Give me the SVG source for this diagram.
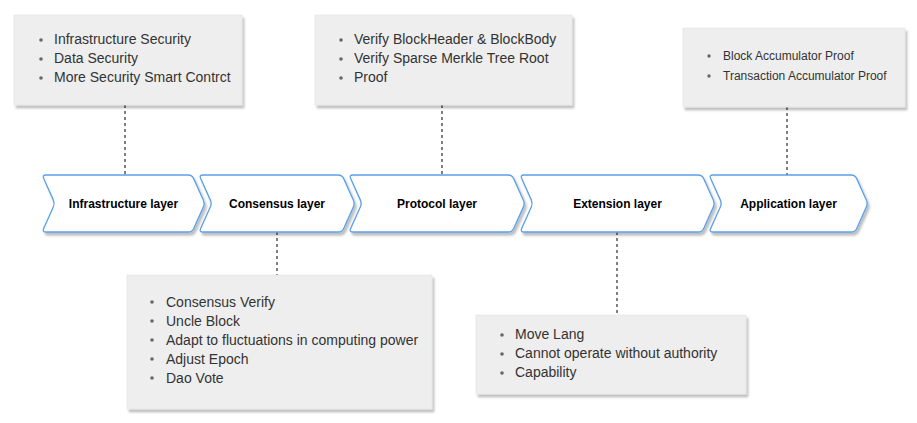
<svg xmlns="http://www.w3.org/2000/svg" width="917" height="423" viewBox="0 0 917 423">
<defs>
<filter id="sh" x="-10%" y="-10%" width="130%" height="140%">
<feDropShadow dx="2" dy="3" stdDeviation="1" flood-color="#000" flood-opacity="0.25"/>
</filter>
<style>
.box{fill:#eeeeee;stroke:#e2e2e2;stroke-width:0.6;filter:url(#sh)}
.chev{fill:#ffffff;stroke:#5aa0ea;stroke-width:1.3;stroke-linejoin:round;filter:url(#sh)}
.lbl{font-family:"Liberation Sans",Arial,sans-serif;font-size:12px;font-weight:bold;fill:#000;text-anchor:middle}
.it{font-family:"Liberation Sans",Arial,sans-serif;font-size:14px;fill:#333}
.its{font-family:"Liberation Sans",Arial,sans-serif;font-size:12px;fill:#333}
.bul{fill:#666}
.con{stroke:#000;stroke-width:1;stroke-dasharray:3 3;fill:none}
</style>
</defs>
<rect width="917" height="423" fill="#ffffff"/>
<g id="connectors">
<line class="con" x1="125" y1="105" x2="125" y2="175"/>
<line class="con" x1="277" y1="232" x2="277" y2="275"/>
<line class="con" x1="442" y1="105" x2="442" y2="175"/>
<line class="con" x1="617" y1="232" x2="617" y2="315"/>
<line class="con" x1="787" y1="107" x2="787" y2="175"/>
</g>
<g id="note-infrastructure">
<rect class="box" x="14" y="15" width="228" height="90"/>
<circle class="bul" cx="41" cy="40" r="1.8"/><text class="it" x="54" y="44">Infrastructure Security</text>
<circle class="bul" cx="41" cy="59" r="1.8"/><text class="it" x="54" y="63">Data Security</text>
<circle class="bul" cx="41" cy="78" r="1.8"/><text class="it" x="54" y="82">More Security Smart Contrct</text>
</g>
<g id="note-protocol">
<rect class="box" x="315" y="15" width="257" height="90"/>
<circle class="bul" cx="341" cy="40" r="1.8"/><text class="it" x="354" y="44">Verify BlockHeader &amp; BlockBody</text>
<circle class="bul" cx="341" cy="59" r="1.8"/><text class="it" x="354" y="63">Verify Sparse Merkle Tree Root</text>
<circle class="bul" cx="341" cy="78" r="1.8"/><text class="it" x="354" y="82">Proof</text>
</g>
<g id="note-application">
<rect class="box" x="683" y="28" width="222" height="79"/>
<circle class="bul" cx="709" cy="56" r="1.7"/><text class="its" x="723" y="60">Block Accumulator Proof</text>
<circle class="bul" cx="709" cy="76" r="1.7"/><text class="its" x="723" y="80">Transaction Accumulator Proof</text>
</g>
<g id="note-consensus">
<rect class="box" x="127" y="275" width="305" height="134"/>
<circle class="bul" cx="152" cy="302" r="1.8"/><text class="it" x="166" y="307">Consensus Verify</text>
<circle class="bul" cx="152" cy="321" r="1.8"/><text class="it" x="166" y="326">Uncle Block</text>
<circle class="bul" cx="152" cy="340" r="1.8"/><text class="it" x="166" y="345">Adapt to fluctuations in computing power</text>
<circle class="bul" cx="152" cy="359" r="1.8"/><text class="it" x="166" y="364">Adjust Epoch</text>
<circle class="bul" cx="152" cy="378" r="1.8"/><text class="it" x="166" y="383">Dao Vote</text>
</g>
<g id="note-extension">
<rect class="box" x="476" y="315" width="270" height="79"/>
<circle class="bul" cx="502" cy="335" r="1.8"/><text class="it" x="515" y="339">Move Lang</text>
<circle class="bul" cx="502" cy="354" r="1.8"/><text class="it" x="515" y="358">Cannot operate without authority</text>
<circle class="bul" cx="502" cy="373" r="1.8"/><text class="it" x="515" y="377">Capability</text>
</g>
<g id="infrastructure-layer">
<path class="chev" d="M 46,175 H 188 Q 192,175 193.7,178.6 L 203.3,199.9 Q 205,203.5 203.3,207.1 L 193.7,228.4 Q 192,232 188,232 H 46 Q 42,232 43.7,228.4 L 53.3,207.1 Q 55,203.5 53.3,199.9 L 43.7,178.6 Q 42,175 46,175 Z"/>
<text class="lbl" x="123.5" y="208">Infrastructure layer</text>
</g>
<g id="consensus-layer">
<path class="chev" d="M 203,175 H 338 Q 342,175 343.7,178.6 L 353.3,199.9 Q 355,203.5 353.3,207.1 L 343.7,228.4 Q 342,232 338,232 H 203 Q 199,232 200.7,228.4 L 210.3,207.1 Q 212,203.5 210.3,199.9 L 200.7,178.6 Q 199,175 203,175 Z"/>
<text class="lbl" x="277" y="208">Consensus layer</text>
</g>
<g id="protocol-layer">
<path class="chev" d="M 353,175 H 508 Q 512,175 513.7,178.6 L 523.3,199.9 Q 525,203.5 523.3,207.1 L 513.7,228.4 Q 512,232 508,232 H 353 Q 349,232 350.7,228.4 L 360.3,207.1 Q 362,203.5 360.3,199.9 L 350.7,178.6 Q 349,175 353,175 Z"/>
<text class="lbl" x="437" y="208">Protocol layer</text>
</g>
<g id="extension-layer">
<path class="chev" d="M 524,175 H 698 Q 702,175 703.7,178.6 L 713.3,199.9 Q 715,203.5 713.3,207.1 L 703.7,228.4 Q 702,232 698,232 H 524 Q 520,232 521.7,228.4 L 531.3,207.1 Q 533,203.5 531.3,199.9 L 521.7,178.6 Q 520,175 524,175 Z"/>
<text class="lbl" x="617.5" y="208">Extension layer</text>
</g>
<g id="application-layer">
<path class="chev" d="M 713,175 H 851 Q 855,175 856.7,178.6 L 866.3,199.9 Q 868,203.5 866.3,207.1 L 856.7,228.4 Q 855,232 851,232 H 713 Q 709,232 710.7,228.4 L 720.3,207.1 Q 722,203.5 720.3,199.9 L 710.7,178.6 Q 709,175 713,175 Z"/>
<text class="lbl" x="788.5" y="208">Application layer</text>
</g>
</svg>
